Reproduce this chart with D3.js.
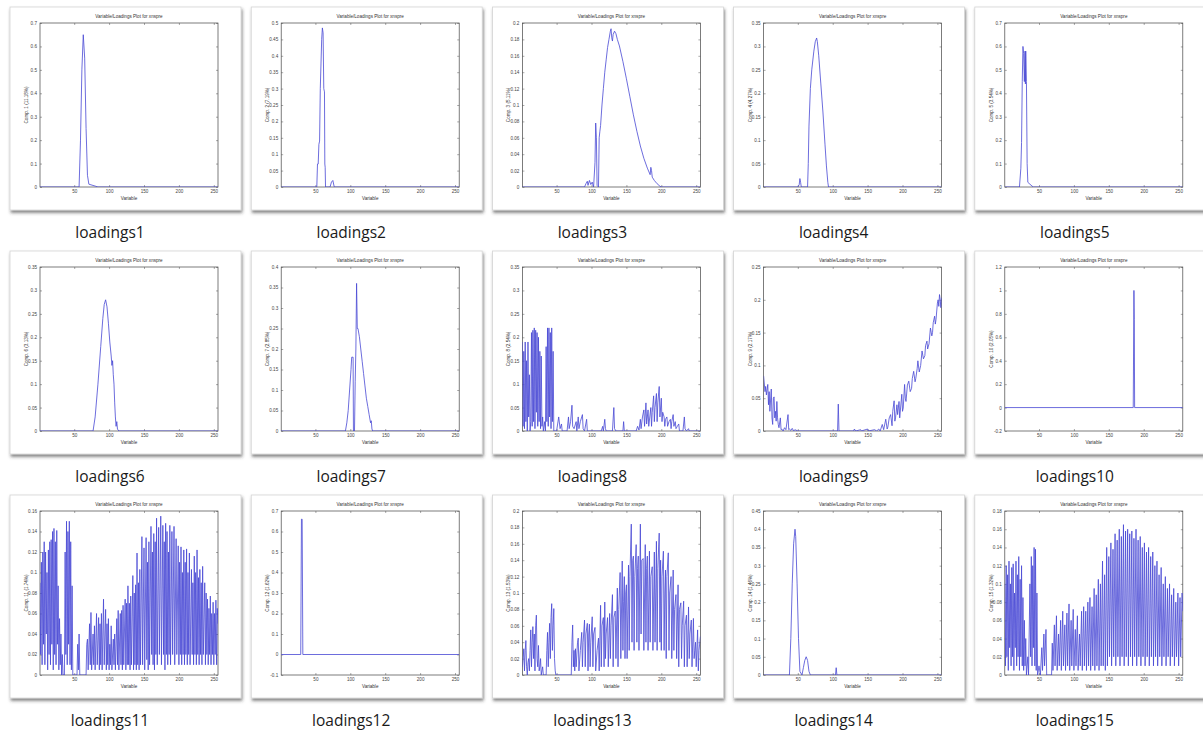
<!DOCTYPE html>
<html>
<head>
<meta charset="utf-8">
<script src="https://cdn.jsdelivr.net/npm/d3@7"></script>
<style>
  body { margin: 0; background: #fff; }
  svg { display: block; }
</style>
</head>
<body>
<svg id="chart" width="1203" height="730"></svg>
<script>
'use strict'

const names = ['loadings1', 'loadings2', 'loadings3', 'loadings4', 'loadings5',
  'loadings6', 'loadings7', 'loadings8', 'loadings9', 'loadings10',
  'loadings11', 'loadings12', 'loadings13', 'loadings14', 'loadings15']

const plotTitle = 'Variable/Loadings Plot for xnspre'
const xLabel = 'Variable'
const yLabels = ['Comp. 1 (11.18%)', 'Comp. 2 (7.19%)', 'Comp. 3 (5.11%)', 'Comp. 4 (4.27%)',
  'Comp. 5 (3.54%)', 'Comp. 6 (3.13%)', 'Comp. 7 (2.85%)', 'Comp. 8 (2.54%)', 'Comp. 9 (2.17%)',
  'Comp. 10 (2.05%)', 'Comp. 11 (1.74%)', 'Comp. 12 (1.62%)', 'Comp. 13 (1.53%)',
  'Comp. 14 (1.46%)', 'Comp. 15 (1.32%)']

const xTicks = [50, 100, 150, 200, 250]

const yTicks1 = [0, 0.1, 0.2, 0.3, 0.4, 0.5, 0.6, 0.7]
const yTicks2 = [0, 0.05, 0.1, 0.15, 0.2, 0.25, 0.3, 0.35, 0.4, 0.45, 0.5]
const yTicks3 = [0, 0.02, 0.04, 0.06, 0.08, 0.1, 0.12, 0.14, 0.16, 0.18, 0.2]
const yTicks4 = [0, 0.05, 0.1, 0.15, 0.2, 0.25, 0.3, 0.35]
const yTicks5 = [0, 0.1, 0.2, 0.3, 0.4, 0.5, 0.6, 0.7]
const yTicks6 = [0, 0.05, 0.1, 0.15, 0.2, 0.25, 0.3, 0.35]
const yTicks7 = [0, 0.05, 0.1, 0.15, 0.2, 0.25, 0.3, 0.35, 0.4]
const yTicks8 = [0, 0.05, 0.1, 0.15, 0.2, 0.25, 0.3, 0.35]
const yTicks9 = [0, 0.05, 0.1, 0.15, 0.2, 0.25]
const yTicks10 = [-0.2, 0, 0.2, 0.4, 0.6, 0.8, 1, 1.2]
const yTicks11 = [0, 0.02, 0.04, 0.06, 0.08, 0.1, 0.12, 0.14, 0.16]
const yTicks12 = [-0.1, 0, 0.1, 0.2, 0.3, 0.4, 0.5, 0.6, 0.7]
const yTicks13 = [0, 0.02, 0.04, 0.06, 0.08, 0.1, 0.12, 0.14, 0.16, 0.18, 0.2]
const yTicks14 = [0, 0.05, 0.1, 0.15, 0.2, 0.25, 0.3, 0.35, 0.4, 0.45]
const yTicks15 = [0, 0.02, 0.04, 0.06, 0.08, 0.1, 0.12, 0.14, 0.16, 0.18]

// [variable, loading]
const load1 = [[1,0],[57,0],[59,0.2],[61,0.5],[63,0.65],[65,0.55],[67,0.25],[69,0.05],[71,0.012],[80,0.004],[84,0],[256,0]]
const load2 = [[1,0],[52,0],[53,0.07],[54,0.07],[55,0.13],[56,0.14],[57,0.3],[59,0.45],[60,0.485],[61,0.47],[62,0.3],[63,0.29],[63.5,0.07],[64,0.06],[64.5,0],[71,0],[73,0.015],[75,0.02],[77,0],[256,0]]
const load3 = [[1,0],[90,0],[92,0.004],[94,0.007],[95,0.002],[97,0.008],[99,0.003],[101,0.006],[103,0],[105,0.03],[106,0.078],[107,0.06],[108,0.002],[110,0],[111,0.06],[112,0.068],[113,0.075],[115,0.1],[117,0.12],[119,0.14],[121,0.155],[123,0.17],[125,0.18],[127,0.19],[128,0.193],[129,0.182],[130,0.178],[131,0.186],[133,0.19],[135,0.187],[137,0.18],[140,0.172],[145,0.153],[150,0.132],[155,0.11],[160,0.088],[165,0.068],[170,0.05],[175,0.035],[180,0.023],[184,0.015],[185,0.024],[186,0.02],[187,0.012],[190,0.008],[194,0.004],[198,0.001],[200,0],[256,0]]
const load4 = [[1,0],[50,0],[52,0.005],[53,0.018],[54,0.01],[55,0],[64,0],[65,0.05],[66,0.13],[68,0.21],[70,0.25],[73,0.29],[75,0.31],[77,0.318],[78,0.31],[80,0.28],[83,0.22],[86,0.16],[89,0.09],[91,0.045],[93,0.01],[94,0],[256,0]]
const load5 = [[1,0],[22,0],[24,0.08],[25,0.19],[26,0.45],[27,0.6],[28,0.57],[29,0.45],[30,0.58],[30.5,0.44],[31,0.58],[32,0.45],[33,0.1],[34,0.02],[37,0.012],[40,0.004],[42,0],[256,0]]
const load6 = [[1,0],[77,0],[80,0.03],[84,0.1],[88,0.18],[91,0.24],[93,0.27],[95,0.28],[97,0.265],[99,0.23],[101,0.19],[103,0.16],[104,0.14],[105,0.15],[106,0.12],[107,0.1],[108,0.06],[109,0.03],[110,0.01],[111,0.02],[112,0.004],[114,0],[256,0]]
const load7 = [[1,0],[93,0],[95,0.02],[97,0.05],[99,0.1],[101,0.15],[102,0.18],[104,0.18],[104.5,0],[106,0],[107,0.12],[108,0.2],[109,0.36],[110,0.25],[111,0.25],[113,0.23],[115,0.2],[117,0.17],[119,0.14],[121,0.11],[123,0.08],[125,0.06],[127,0.04],[129,0.02],[130,0.025],[131,0.005],[132,0],[256,0]]
const load8 = [[1,0.19],[2,0.01],[3,0.17],[4,0.005],[5,0.19],[6,0.02],[7,0.15],[8,0],[9,0.19],[10,0.03],[11,0.12],[12,0],[13,0.02],[14,0.21],[15,0.01],[16,0.215],[17,0.02],[18,0.22],[19,0.005],[20,0.215],[21,0.04],[22,0.21],[23,0.01],[24,0.2],[25,0.02],[26,0.17],[27,0.005],[28,0.16],[29,0.01],[30,0.03],[31,0],[33,0.02],[34,0],[35,0.18],[36,0.02],[37,0.22],[38,0.01],[39,0.22],[40,0.03],[41,0.21],[42,0.005],[43,0.22],[44,0.02],[45,0.17],[46,0],
  [50,0],[53,0.03],[55,0.005],[57,0.015],[58,0],[65,0],[67,0.03],[68,0.005],[70,0.02],[72,0.055],[73,0.01],[75,0.005],[78,0.02],[79,0],[81,0.03],[82,0.005],[84,0.02],[87,0.035],[88,0.005],[90,0],[93,0.025],[94,0],[114,0],[116,0.01],[117,0],[119,0.025],[120,0.005],[121,0],[130,0],[132,0.05],[133,0.005],[135,0],[145,0],[146,0.02],[147,0],
  [164,0],[166,0.01],[168,0.002],[170,0.025],[171,0.005],[173,0.03],[175,0.045],[176,0.01],[178,0.06],[179,0.015],[181,0.045],[182,0.01],[185,0.05],[186,0.01],[187,0.04],[189,0.075],[190,0.02],[191,0.05],[193,0.08],[194,0.02],[195,0.06],[197,0.095],[198,0.03],[200,0.07],[201,0.02],[202,0.04],[204,0.03],[205,0.01],[206,0.025],[208,0.03],[209,0.01],[211,0.02],[213,0.025],[214,0.005],[215,0.02],[217,0.035],[218,0.01],[220,0.02],[221,0.005],[223,0.01],[225,0.015],[226,0],[231,0],[233,0.03],[234,0.005],[236,0],[239,0.005],[240,0],[256,0]]
const load9 = [[1,0.084],[3,0.06],[4,0.068],[5,0.055],[7,0.071],[8,0.04],[9,0.06],[10,0.03],[12,0.064],[13,0.02],[14,0.01],[15,0.05],[16,0.052],[17,0.02],[18,0.03],[19,0.015],[20,0.045],[21,0.02],[22,0.01],[23,0.005],[25,0.02],[26,0.002],[27,0.003],[29,0],[31,0.005],[33,0.002],[36,0.025],[37,0.002],[38,0.003],[40,0.001],[42,0.004],[44,0],[46,0.002],[50,0],[107,0],[108,0.041],[109,0],[130,0],[131,0.003],[133,0],[140,0.002],[141,0],[150,0.003],[151,0],[160,0.002],[163,0],[166,0.003],[168,0],[171,0.01],[173,0.002],[176,0.018],[178,0.003],[179,0.006],[181,0.02],[183,0.025],[185,0.008],[186,0.03],[188,0.046],[189,0.015],[190,0.02],[192,0.04],[193,0.025],[195,0.045],[196,0.02],[199,0.056],[200,0.03],[201,0.035],[203,0.071],[204,0.05],[205,0.045],[207,0.07],[209,0.076],[211,0.06],[213,0.065],[214,0.08],[216,0.091],[218,0.075],[219,0.08],[221,0.095],[222,0.107],[224,0.09],[226,0.1],[228,0.122],[230,0.11],[232,0.115],[233,0.13],[235,0.137],[236,0.125],[238,0.133],[240,0.157],[242,0.145],[243,0.15],[244,0.165],[246,0.175],[247,0.163],[248,0.17],[250,0.195],[251,0.2],[252,0.19],[253,0.208],[254,0.2],[255,0.188],[256,0.203]]
const load10 = [[1,0],[185,0],[186,1.0],[186.5,0.75],[187,0],[256,0]]
const load11 = [[1,0.09],[2,0.02],[3,0.11],[4,0.01],[5,0.12],[6,0.03],[7,0.13],[8,0.01],[9,0.12],[10,0.04],[11,0.1],[12,0.005],[13,0.122],[14,0.02],[15,0.13],[16,0.01],[17,0.132],[18,0.03],[19,0.14],[20,0.005],[21,0.143],[22,0.02],[23,0.13],[24,0.01],[25,0.141],[26,0.03],[27,0.087],[28,0.005],[29,0.055],[30,0.01],[31,0.04],[32,0],[33,0.02],[34,0],[36,0],[37,0.12],[38,0.02],[39,0.15],[40,0.01],[41,0.14],[42,0.03],[43,0.15],[44,0.01],[45,0.13],[46,0.005],[47,0.087],[48,0],[54,0],[55,0.03],[56,0.005],[57,0.04],[58,0],[67,0],
  [68,0.03],[69,0.035],[70,0.005],[72,0.05],[73,0.01],[74,0.061],[75,0.005],[77,0.04],[78,0.01],[79,0.048],[80,0.005],[82,0.06],[83,0.01],[85,0.056],[86,0.005],[87,0.05],[88,0.01],[89,0.06],[90,0.005],[92,0.074],[93,0.01],[95,0.064],[96,0.005],[97,0.05],[98,0.01],[99,0.055],[100,0.005],[101,0.03],[102,0.01],[103,0.048],[104,0.005],[106,0.035],[107,0.01],[108,0.04],[109,0.005],[111,0.055],[112,0.01],[113,0.063],[114,0.005],[116,0.06],[117,0.01],[118,0.063],[119,0.005],[120,0.068],[121,0.01],[123,0.074],[124,0.005],[125,0.07],[126,0.01],[127,0.087],[128,0.01],[129,0.07],[130,0.005],[131,0.077],[132,0.01],[134,0.097],[135,0.005],[136,0.08],[137,0.01],[138,0.088],[139,0.005],[140,0.119],[141,0.01],[142,0.09],[143,0.005],[144,0.103],[145,0.01],[147,0.135],[148,0.01],[150,0.124],[151,0.005],[153,0.134],[154,0.015],[155,0.11],[156,0.005],[157,0.13],[158,0.01],[160,0.145],[161,0.02],[162,0.12],[163,0.01],[164,0.138],[165,0.005],[166,0.13],[167,0.02],[168,0.153],[169,0.01],[171,0.144],[172,0.02],[174,0.155],[175,0.01],[177,0.146],[178,0.02],[179,0.13],[180,0.005],[181,0.148],[182,0.02],[183,0.14],[184,0.01],[185,0.12],[186,0.02],[187,0.146],[188,0.01],[190,0.14],[191,0.02],[193,0.145],[194,0.01],[196,0.133],[197,0.02],[199,0.126],[200,0.01],[201,0.11],[202,0.02],[203,0.125],[204,0.01],[205,0.1],[206,0.02],[207,0.122],[208,0.01],[209,0.11],[210,0.02],[211,0.123],[212,0.01],[213,0.1],[214,0.02],[215,0.119],[216,0.01],[218,0.103],[219,0.02],[220,0.09],[221,0.01],[222,0.116],[223,0.02],[224,0.1],[225,0.01],[226,0.122],[227,0.02],[228,0.095],[229,0.01],[230,0.103],[231,0.02],[232,0.09],[233,0.01],[234,0.106],[235,0.02],[237,0.09],[238,0.01],[239,0.08],[240,0.02],[241,0.074],[242,0.01],[243,0.065],[244,0.02],[245,0.077],[246,0.01],[247,0.06],[248,0.02],[249,0.071],[250,0.01],[251,0.06],[252,0.02],[253,0.073],[254,0.01],[255,0.065],[256,0.05]]
const load12 = [[1,0],[29,0],[30,0.66],[31,0.66],[32,0],[256,0]]
const load13 = [[1,0.01],[2,0.02],[3,0.032],[4,0.005],[5,0.03],[6,0.042],[7,0.01],[8,0],[9,0.015],[10,0.02],[11,0.005],[12,0.03],[13,0.055],[14,0.01],[15,0.04],[16,0.059],[17,0.02],[18,0.05],[19,0.005],[20,0.06],[21,0.073],[22,0.02],[23,0.01],[24,0.036],[25,0.005],[26,0.01],[27,0.02],[28,0],[30,0.01],[31,0],[35,0],[36,0.03],[37,0.052],[38,0.01],[39,0.04],[40,0.063],[41,0.02],[42,0.07],[43,0.087],[44,0.03],[45,0.06],[46,0.081],[47,0.02],[48,0.005],[49,0],[71,0],
  [72,0.04],[73,0.061],[74,0.01],[75,0.03],[76,0.005],[77,0.032],[78,0.01],[80,0.04],[81,0.045],[82,0.005],[84,0.03],[86,0.052],[87,0.01],[88,0.04],[90,0.067],[91,0.01],[92,0.05],[94,0.063],[95,0.005],[96,0.05],[97,0.062],[98,0.01],[99,0.04],[101,0.071],[102,0.01],[103,0.05],[105,0.058],[106,0.005],[108,0.03],[110,0.045],[111,0.005],[113,0.085],[114,0.01],[115,0.06],[117,0.07],[118,0.01],[119,0.089],[120,0.02],[121,0.05],[123,0.07],[124,0.01],[126,0.075],[127,0.02],[128,0.06],[130,0.098],[131,0.01],[132,0.07],[134,0.078],[135,0.02],[137,0.106],[138,0.01],[139,0.08],[141,0.125],[142,0.02],[144,0.139],[145,0.03],[146,0.09],[147,0.12],[148,0.02],[149,0.1],[150,0.11],[151,0.02],[153,0.134],[154,0.03],[155,0.12],[157,0.184],[158,0.04],[159,0.14],[160,0.145],[161,0.03],[162,0.12],[164,0.159],[165,0.04],[166,0.13],[167,0.145],[168,0.03],[170,0.184],[171,0.05],[172,0.14],[174,0.142],[175,0.03],[177,0.159],[178,0.04],[179,0.13],[180,0.145],[181,0.03],[183,0.151],[184,0.04],[185,0.12],[187,0.132],[188,0.03],[190,0.15],[191,0.04],[193,0.163],[194,0.03],[195,0.13],[197,0.173],[198,0.04],[199,0.14],[200,0.03],[201,0.12],[203,0.151],[204,0.03],[205,0.1],[206,0.128],[207,0.02],[208,0.12],[210,0.149],[211,0.03],[212,0.1],[214,0.12],[215,0.02],[217,0.128],[218,0.03],[219,0.08],[221,0.098],[222,0.02],[224,0.11],[225,0.01],[226,0.08],[228,0.088],[229,0.02],[230,0.06],[232,0.09],[233,0.01],[234,0.06],[236,0.073],[237,0.01],[239,0.083],[240,0.02],[241,0.05],[243,0.067],[244,0.01],[246,0.069],[247,0.02],[248,0.03],[249,0.04],[250,0.01],[252,0.055],[253,0.005],[254,0.03],[256,0.047]]
const load14 = [[1,0],[38,0],[40,0.1],[42,0.25],[44,0.36],[46,0.4],[47,0.38],[49,0.25],[51,0.1],[53,0.01],[56,0],[58,0.02],[60,0.04],[62,0.05],[64,0.04],[66,0.01],[68,0],[104,0],[105,0.02],[106,0],[256,0]]
const load15 = [[1,0.1],[2,0.01],[3,0.12],[4,0.02],[5,0.11],[6,0.005],[7,0.125],[8,0.03],[9,0.1],[10,0.01],[11,0.118],[12,0.02],[13,0.122],[14,0.005],[15,0.09],[16,0.03],[17,0.125],[18,0.01],[19,0.11],[20,0.02],[21,0.13],[22,0.005],[23,0.105],[24,0.02],[25,0.12],[26,0.01],[27,0.085],[28,0.005],[29,0.06],[30,0.01],[31,0.04],[32,0],[34,0.02],[35,0],[37,0.1],[38,0.02],[39,0.13],[40,0.01],[41,0.12],[42,0.03],[43,0.14],[44,0.01],[45,0.138],[46,0.005],[47,0.09],[48,0],[50,0.01],[52,0],[54,0.03],[55,0.005],[57,0.045],[58,0.01],[60,0.05],[61,0],[68,0],
  [69,0.035],[70,0.005],[72,0.055],[73,0.01],[75,0.065],[76,0.005],[78,0.045],[79,0.01],[81,0.06],[82,0.005],[84,0.07],[85,0.01],[87,0.055],[88,0.005],[90,0.068],[91,0.01],[93,0.078],[94,0.005],[96,0.06],[97,0.01],[99,0.072],[100,0.005],[102,0.05],[103,0.01],[105,0.065],[106,0.005],[108,0.045],[109,0.01],[111,0.07],[112,0.005],[114,0.075],[115,0.01],[117,0.07],[118,0.005],[120,0.08],[121,0.01],[123,0.085],[124,0.005],[126,0.075],[127,0.01],[129,0.095],[130,0.005],[132,0.088],[133,0.01],[135,0.105],[136,0.005],[138,0.1],[139,0.01],[141,0.125],[142,0.01],[144,0.11],[145,0.005],[147,0.14],[148,0.01],[150,0.13],[151,0.02],[153,0.145],[154,0.01],[156,0.138],[157,0.02],[159,0.155],[160,0.01],[162,0.148],[163,0.02],[165,0.16],[166,0.01],[168,0.152],[169,0.02],[171,0.165],[172,0.01],[174,0.158],[175,0.02],[177,0.16],[178,0.01],[180,0.155],[181,0.02],[183,0.158],[184,0.01],[186,0.15],[187,0.02],[189,0.16],[190,0.01],[192,0.148],[193,0.02],[195,0.152],[196,0.01],[198,0.14],[199,0.02],[201,0.145],[202,0.01],[204,0.135],[205,0.02],[207,0.14],[208,0.01],[210,0.13],[211,0.02],[213,0.135],[214,0.01],[216,0.12],[217,0.02],[219,0.125],[220,0.01],[222,0.11],[223,0.02],[225,0.118],[226,0.01],[228,0.1],[229,0.02],[231,0.108],[232,0.01],[234,0.095],[235,0.02],[237,0.1],[238,0.01],[240,0.088],[241,0.02],[243,0.095],[244,0.01],[246,0.08],[247,0.02],[249,0.09],[250,0.01],[252,0.085],[253,0.02],[255,0.09],[256,0.07]]

const series = [load1, load2, load3, load4, load5, load6, load7, load8, load9, load10,
  load11, load12, load13, load14, load15]
const yTickSets = [yTicks1, yTicks2, yTicks3, yTicks4, yTicks5, yTicks6, yTicks7, yTicks8,
  yTicks9, yTicks10, yTicks11, yTicks12, yTicks13, yTicks14, yTicks15]

// ---- layout ----
const colStep = 241.2
const rowStep = 244
const cardW = 231
const cardH = 203
const plot = { left: 30, right: 208, top: 16, bottom: 180 }

const svg = d3.select('#chart')

const defs = svg.append('defs')
defs.append('filter')
    .attr('id', 'shadow')
    .attr('x', '-5%').attr('y', '-5%')
    .attr('width', '115%').attr('height', '115%')
  .append('feDropShadow')
    .attr('dx', 1).attr('dy', 2.5)
    .attr('stdDeviation', 1.6)
    .attr('flood-color', '#333')
    .attr('flood-opacity', 0.6)

const panels = names.map((name, i) => ({
  name,
  values: series[i],
  ticks: yTickSets[i],
  yLabel: yLabels[i],
  x0: 10 + colStep * (i % 5),
  y0: 7 + rowStep * Math.floor(i / 5)
}))

const cards = svg.selectAll('.card')
  .data(panels)
  .enter()
  .append('g')
    .attr('class', 'card')
    .attr('transform', d => `translate(${d.x0},${d.y0})`)

cards.append('rect')
  .attr('width', cardW)
  .attr('height', cardH)
  .attr('fill', '#fff')
  .attr('stroke', '#d4d4d4')
  .attr('stroke-width', 0.8)
  .attr('filter', 'url(#shadow)')

cards.append('text')
  .attr('x', 100)
  .attr('y', 231)
  .attr('text-anchor', 'middle')
  .style('font-family', '"Open Sans", "Noto Sans", sans-serif')
  .style('font-size', '15.5px')
  .style('fill', '#1a1a1a')
  .text(d => d.name)

cards.each(function (d, i) {
  const g = d3.select(this)
  const x = d3.scaleLinear().domain([1, 256]).range([plot.left, plot.right])
  const ticks = d.ticks
  const y = d3.scaleLinear().domain([ticks[0], ticks[ticks.length - 1]]).range([plot.bottom, plot.top])

  const tickFont = g => g.selectAll('text')
    .style('font-family', '"Liberation Sans", Arial, sans-serif')
    .style('font-size', '4.6px')
    .style('fill', '#444')

  // tick marks point inward, like matlab
  const xb = g.append('g').attr('transform', `translate(0,${plot.bottom})`)
    .call(d3.axisBottom(x).tickValues(xTicks).tickSizeInner(-2).tickSizeOuter(0).tickPadding(3))
  const xt = g.append('g').attr('transform', `translate(0,${plot.top})`)
    .call(d3.axisTop(x).tickValues(xTicks).tickSizeInner(-2).tickSizeOuter(0).tickFormat(''))
  const yl = g.append('g').attr('transform', `translate(${plot.left},0)`)
    .call(d3.axisLeft(y).tickValues(ticks).tickSizeInner(-2).tickSizeOuter(0).tickPadding(3).tickFormat(v => String(v)))
  const yr = g.append('g').attr('transform', `translate(${plot.right},0)`)
    .call(d3.axisRight(y).tickValues(ticks).tickSizeInner(-2).tickSizeOuter(0).tickFormat(''))

  ;[xb, xt, yl, yr].forEach(a => {
    a.select('.domain').remove()
    a.selectAll('line').attr('stroke', '#555').attr('stroke-width', 0.5)
    a.call(tickFont)
  })

  g.append('rect')
    .attr('x', plot.left)
    .attr('y', plot.top)
    .attr('width', plot.right - plot.left)
    .attr('height', plot.bottom - plot.top)
    .attr('fill', 'none')
    .attr('stroke', '#444')
    .attr('stroke-width', 0.7)

  const clipId = 'clip' + i
  g.append('clipPath').attr('id', clipId)
    .append('rect')
      .attr('x', plot.left).attr('y', plot.top)
      .attr('width', plot.right - plot.left)
      .attr('height', plot.bottom - plot.top)

  const line = d3.line()
    .x(p => x(p[0]))
    .y(p => y(p[1]))

  g.append('path')
    .datum(d.values)
    .attr('clip-path', `url(#${clipId})`)
    .attr('d', line)
    .attr('fill', 'none')
    .attr('stroke', '#4848d4')
    .attr('stroke-width', 0.8)
    .attr('stroke-linejoin', 'round')

  g.append('text')
    .attr('x', (plot.left + plot.right) / 2)
    .attr('y', 10.5)
    .attr('text-anchor', 'middle')
    .style('font-family', '"Liberation Sans", Arial, sans-serif')
    .style('font-size', '4.6px')
    .style('fill', '#333')
    .text(plotTitle)

  g.append('text')
    .attr('x', (plot.left + plot.right) / 2)
    .attr('y', plot.bottom + 13)
    .attr('text-anchor', 'middle')
    .style('font-family', '"Liberation Sans", Arial, sans-serif')
    .style('font-size', '4.6px')
    .style('fill', '#333')
    .text(xLabel)

  g.append('text')
    .attr('transform', `translate(18,${(plot.top + plot.bottom) / 2}) rotate(-90)`)
    .attr('text-anchor', 'middle')
    .style('font-family', '"Liberation Sans", Arial, sans-serif')
    .style('font-size', '4.6px')
    .style('fill', '#333')
    .text(d.yLabel)
})
</script>
</body>
</html>
